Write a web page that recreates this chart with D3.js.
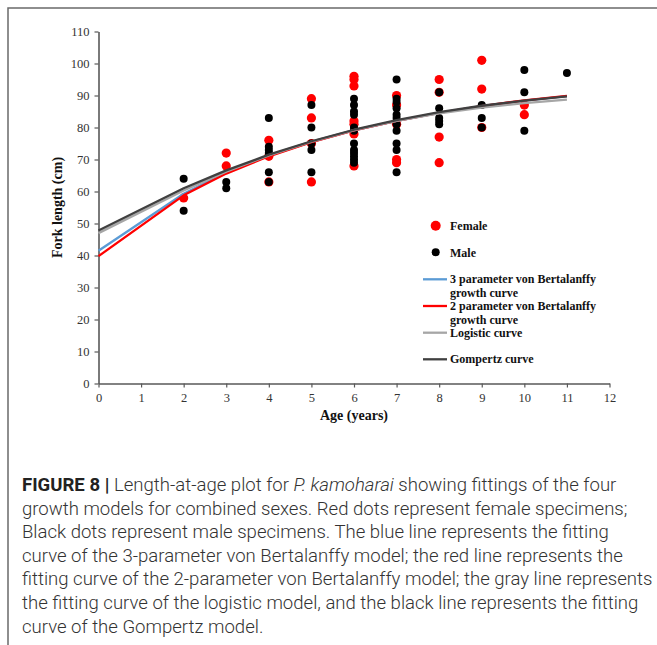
<!DOCTYPE html>
<html><head><meta charset="utf-8">
<script src="https://cdn.jsdelivr.net/npm/d3@7"></script>
<style>
html,body{margin:0;padding:0;background:#fff;}
svg{display:block;}
</style>
</head><body>
<svg id="chart" width="657" height="645"></svg>
<script>
// ---- data ----
const femaleAge    = [2, 3, 3, 4, 4, 4, 5, 5, 5, 5, 6, 6, 6, 6, 6, 6, 6, 7, 7, 7, 7, 7, 8, 8, 8, 8, 9, 9, 9, 10, 10];
const femaleLength = [58, 72, 68, 76, 71, 63, 89, 83, 75, 63, 96, 95, 93, 82, 81, 78, 68, 90, 87, 81, 70, 69, 95, 91, 77, 69, 101, 92, 80, 87, 84];
const maleAge    = [2, 2, 3, 3, 4, 4, 4, 4, 4, 4, 5, 5, 5, 5, 5, 6, 6, 6, 6, 6, 6, 6, 6, 6, 6, 6, 6, 7, 7, 7, 7, 7, 7, 7, 7, 7, 7, 7, 8, 8, 8, 8, 8, 9, 9, 9, 10, 10, 10, 11];
const maleLength = [64, 54, 63, 61, 83, 74, 73, 72, 66, 63, 87, 80, 75, 73, 66, 89, 87, 85, 84, 80, 79, 75, 73, 72, 71, 70, 69, 95, 89, 88, 86, 84, 83, 81, 79, 75, 73, 66, 91, 86, 83, 82, 81, 87, 83, 80, 98, 91, 79, 97];
const curveAges = [0, 2, 3, 4, 5, 6, 7, 8, 9, 10, 11];
const vb3Length  = [41.5, 59.3, 65.9, 71.2, 75.5, 79.1, 82.1, 84.6, 86.7, 88.4, 89.8];
const vb2Length  = [39.8, 58.8, 65.6, 71.0, 75.4, 79.1, 82.1, 84.6, 86.7, 88.5, 89.9];
const logLength  = [47.0, 60.3, 66.2, 71.3, 75.6, 79.2, 82.1, 84.4, 86.2, 87.6, 88.7];
const gompLength = [47.8, 61.0, 66.6, 71.5, 75.7, 79.3, 82.3, 84.8, 86.8, 88.4, 89.7];
const xTicks = [0,1,2,3,4,5,6,7,8,9,10,11,12];
const yTicks = [0,10,20,30,40,50,60,70,80,90,100,110];
const legendLabels = ["Female", "Male", ["3 parameter von Bertalanffy","growth curve"], ["2 parameter von Bertalanffy","growth curve"], ["Logistic curve"], ["Gompertz curve"]];
const captionLines = [
  ["FIGURE 8 | ", "Length-at-age plot for ", "P. kamoharai", " showing fittings of the four"],
  ["", "growth models for combined sexes. Red dots represent female specimens;"],
  ["", "Black dots represent male specimens. The blue line represents the fitting"],
  ["", "curve of the 3-parameter von Bertalanffy model; the red line represents the"],
  ["", "fitting curve of the 2-parameter von Bertalanffy model; the gray line represents"],
  ["", "the fitting curve of the logistic model, and the black line represents the fitting"],
  ["", "curve of the Gompertz model."]
];

// ---- drawing ----
const svg = d3.select("#chart");
const serif = "'Liberation Serif','Times New Roman',serif";
const axisCol = "#595959";

// frame
svg.append("path").attr("d","M8,645 L8,8 L657,8").attr("fill","none").attr("stroke","#6a6a6a").attr("stroke-width",1.5);

const x = d3.scaleLinear().domain([0,12]).range([98.5,609.5]);
const y = d3.scaleLinear().domain([0,110]).range([383.5,31.5]);

const xAxis = svg.append("g").attr("transform",`translate(0,${y(0)})`)
  .call(d3.axisBottom(x).tickValues(xTicks).tickSize(4).tickSizeOuter(0).tickPadding(6));
const yAxis = svg.append("g").attr("transform",`translate(${x(0)},0)`)
  .call(d3.axisLeft(y).tickValues(yTicks).tickSize(4).tickSizeOuter(0).tickPadding(5));
[xAxis,yAxis].forEach(g=>{
  g.select(".domain").attr("stroke",axisCol).attr("stroke-width",1.6);
  g.selectAll(".tick line").attr("stroke",axisCol).attr("stroke-width",1.2);
  g.selectAll(".tick text").attr("font-family",serif).attr("font-size",12.5).attr("fill","#333");
});

// axis titles
svg.append("text").attr("x",(x(0)+x(12))/2).attr("y",420).attr("text-anchor","middle")
  .attr("font-family",serif).attr("font-weight","bold").attr("font-size",14).attr("fill","#111").text("Age (years)");
svg.append("text").attr("transform",`translate(62,${(y(0)+y(110))/2}) rotate(-90)`).attr("text-anchor","middle")
  .attr("font-family",serif).attr("font-weight","bold").attr("font-size",14).attr("fill","#111").text("Fork length (cm)");

// dots
svg.append("g").selectAll("circle").data(femaleAge.map((a,i)=>[a,femaleLength[i]])).join("circle")
  .attr("cx",d=>x(d[0])).attr("cy",d=>y(d[1])).attr("r",4.6).attr("fill","#ff0000");
svg.append("g").selectAll("circle").data(maleAge.map((a,i)=>[a,maleLength[i]])).join("circle")
  .attr("cx",d=>x(d[0])).attr("cy",d=>y(d[1])).attr("r",4).attr("fill","#000");

// curves
const curves = [
  {vals: vb3Length, color:"#5b9bd5"},
  {vals: vb2Length, color:"#ff0000"},
  {vals: logLength, color:"#a6a6a6"},
  {vals: gompLength, color:"#404040"}
];
const line = d3.line().x(d=>x(d[0])).y(d=>y(d[1]));
curves.forEach(c=>{
  svg.append("path").attr("d",line(curveAges.map((a,i)=>[a,c.vals[i]])))
    .attr("fill","none").attr("stroke",c.color).attr("stroke-width",2.3).attr("stroke-linejoin","round");
});

// legend
const lg = svg.append("g").attr("font-family",serif).attr("font-weight","bold").attr("font-size",12).attr("fill","#111");
lg.append("circle").attr("cx",435.7).attr("cy",225.7).attr("r",5).attr("fill","#ff0000");
lg.append("text").attr("x",450).attr("y",230).text(legendLabels[0]);
lg.append("circle").attr("cx",435.7).attr("cy",252.3).attr("r",4).attr("fill","#000");
lg.append("text").attr("x",450).attr("y",256.5).text(legendLabels[1]);
const lineRows = [279.3, 306, 332.7, 359.3];
curves.forEach((c,i)=>{
  lg.append("line").attr("x1",423).attr("x2",447).attr("y1",lineRows[i]).attr("y2",lineRows[i])
    .attr("stroke",c.color).attr("stroke-width",2.3);
  legendLabels[i+2].forEach((t,j)=>{
    lg.append("text").attr("x",450).attr("y",lineRows[i]+4+j*13.5).text(t);
  });
});

// caption
const capFont = "'Roboto','Liberation Sans',sans-serif";
const cap = svg.append("g").attr("font-family",capFont).attr("fill","#333");
let capSize = 17.5;
const lines = captionLines.map((parts,i)=>{
  const t = cap.append("text").attr("x",22).attr("y",491+i*23.6).attr("font-size",capSize).attr("font-weight",300);
  parts.forEach((p,j)=>{
    if(!p) return;
    const ts = t.append("tspan").text(p);
    if(i===0 && j===0) ts.attr("font-weight","bold").attr("fill","#222");
    if(i===0 && j===2) ts.attr("font-style","italic");
  });
  return t;
});
// fit size so the first line spans the same width as the reference
const w0 = lines[0].node().getComputedTextLength();
const fitted = capSize*595/w0;
lines.forEach(t=>t.attr("font-size",fitted));
</script>
</body></html>
